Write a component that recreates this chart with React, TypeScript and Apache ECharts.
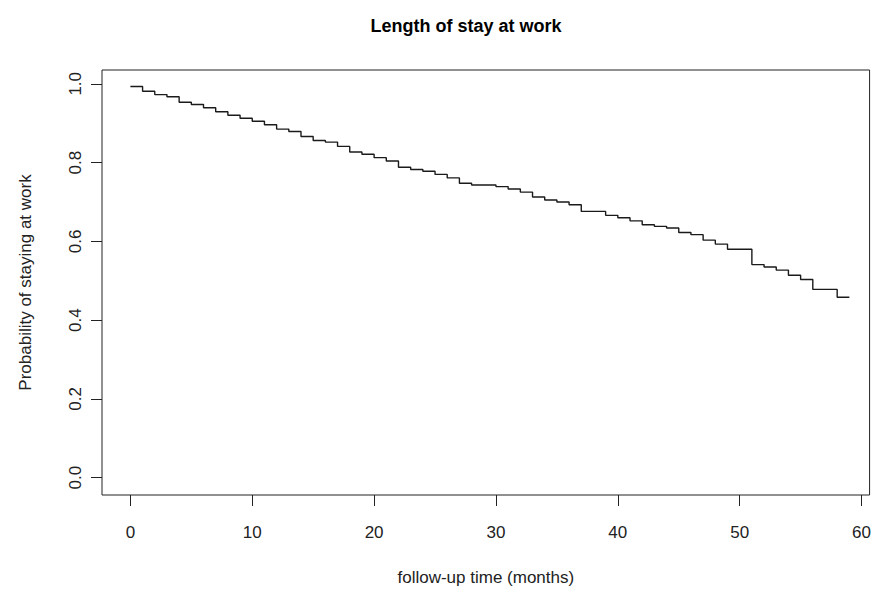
import React, { useEffect, useRef } from "react";
import * as echarts from "echarts";

const chartTitle = "Length of stay at work";
const xAxisTitle = "follow-up time (months)";
const yAxisTitle = "Probability of staying at work";

const xTicks = [0, 10, 20, 30, 40, 50, 60];
const yTicks = [0, 0.2, 0.4, 0.6, 0.8, 1.0];

// Kaplan-Meier step curve: time (months) and survival probability from that time on
const times = [
  0, 1, 2, 3, 4, 5, 6, 7, 8, 9, 10, 11, 12, 13, 14, 15, 16, 17, 18, 19, 20,
  21, 22, 23, 24, 25, 26, 27, 28, 30, 31, 32, 33, 34, 35, 36, 37, 39, 40, 41,
  42, 43, 44, 45, 46, 47, 48, 49, 51, 52, 53, 54, 55, 56, 58, 59,
];
const survival = [
  0.993, 0.981, 0.9725, 0.967, 0.953, 0.9475, 0.939, 0.929, 0.92, 0.9125,
  0.905, 0.896, 0.885, 0.879, 0.866, 0.856, 0.852, 0.841, 0.827, 0.821,
  0.8125, 0.804, 0.788, 0.7825, 0.778, 0.77, 0.761, 0.7475, 0.743, 0.739,
  0.733, 0.725, 0.7125, 0.705, 0.7, 0.693, 0.676, 0.666, 0.66, 0.652, 0.642,
  0.638, 0.634, 0.6225, 0.617, 0.603, 0.593, 0.58, 0.541, 0.535, 0.527,
  0.514, 0.503, 0.478, 0.458, 0.458,
];

export default function App() {
  const ref = useRef<HTMLDivElement>(null);

  useEffect(() => {
    if (!ref.current) return;
    const chart = echarts.init(ref.current, undefined, { renderer: "svg" });
    const font = "Liberation Sans, Arial, Helvetica, sans-serif";
    chart.setOption({
      animation: false,
      backgroundColor: "#ffffff",
      title: {
        text: chartTitle,
        left: 461,
        top: 12,
        textAlign: "center",
        textStyle: {
          fontFamily: font,
          fontWeight: "bold",
          fontSize: 18,
          color: "#000",
        },
      },
      grid: {
        left: 102,
        top: 70,
        right: 2,
        bottom: 89,
        show: true,
        borderColor: "#222",
        borderWidth: 1,
        backgroundColor: "transparent",
      },
      xAxis: {
        type: "value",
        min: -2.33,
        max: 60.66,
        name: xAxisTitle,
        nameLocation: "middle",
        nameGap: 74,
        nameTextStyle: { fontFamily: font, fontSize: 17, color: "#222" },
        axisLine: { show: false, onZero: false },
        splitLine: { show: false },
        axisTick: {
          show: true,
          inside: false,
          length: 11,
          customValues: xTicks,
          lineStyle: { color: "#222" },
        },
        axisLabel: {
          customValues: xTicks,
          margin: 29,
          fontFamily: font,
          fontSize: 17,
          color: "#222",
        },
      },
      yAxis: {
        type: "value",
        min: -0.044,
        max: 1.035,
        name: yAxisTitle,
        nameLocation: "middle",
        nameRotate: 90,
        nameGap: 68,
        nameTextStyle: { fontFamily: font, fontSize: 17, color: "#222" },
        axisLine: { show: false, onZero: false },
        splitLine: { show: false },
        axisTick: {
          show: true,
          inside: false,
          length: 11,
          customValues: yTicks,
          lineStyle: { color: "#222" },
        },
        axisLabel: {
          customValues: yTicks,
          rotate: 90,
          align: "center",
          verticalAlign: "middle",
          margin: 27,
          fontFamily: font,
          fontSize: 17,
          color: "#222",
          formatter: (v: number) => v.toFixed(1),
        },
      },
      series: [
        {
          type: "line",
          step: "end",
          data: times.map((t, i) => [t, survival[i]]),
          showSymbol: false,
          lineStyle: { color: "#1a1a1a", width: 1.4 },
        },
      ],
    });
    return () => chart.dispose();
  }, []);

  return (
    <div
      ref={ref}
      style={{ position: "fixed", left: 0, top: 0, width: 874, height: 591 }}
    />
  );
}
